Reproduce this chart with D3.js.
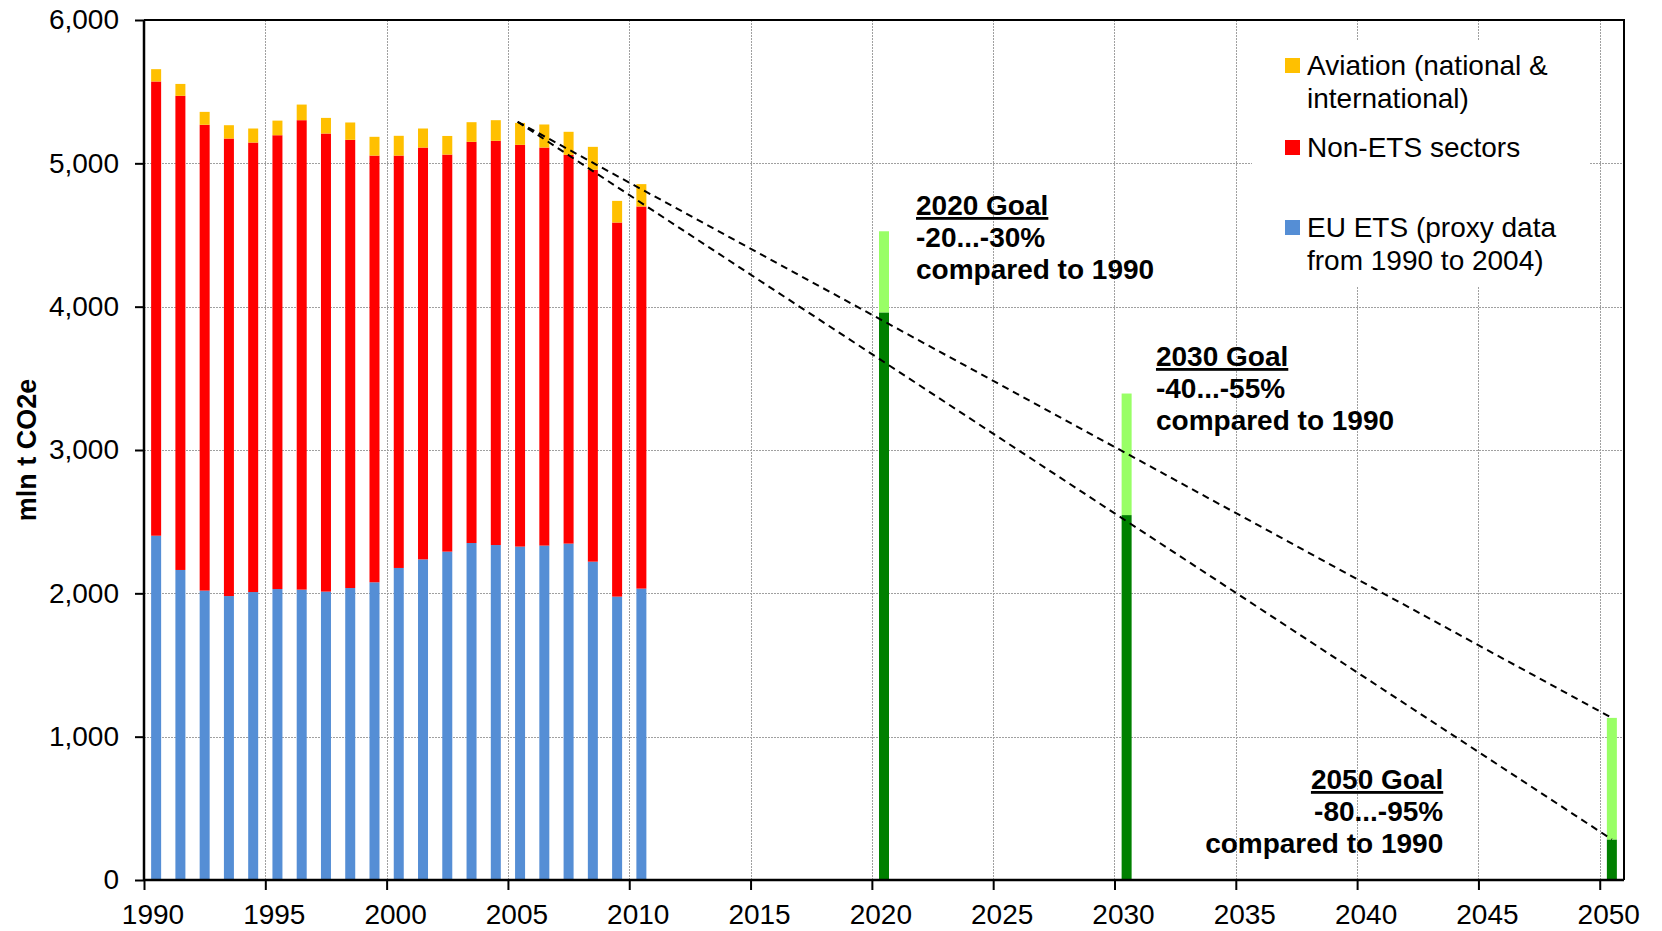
<!DOCTYPE html>
<html>
<head>
<meta charset="utf-8">
<script src="https://cdn.jsdelivr.net/npm/d3@7"></script>
<style>
	body { margin: 0; background: #fff; }
	svg { display: block; font-family: 'Liberation Sans', Arial, sans-serif; }
</style>
</head>
<body>
<div id="chart"></div>
<script>
// Data (mln t CO2e)
const years = [1990, 1991, 1992, 1993, 1994, 1995, 1996, 1997, 1998, 1999, 2000,
	2001, 2002, 2003, 2004, 2005, 2006, 2007, 2008, 2009, 2010];
const euEts = [2402, 2163, 2019, 1981, 2009, 2030, 2026, 2012, 2037, 2077, 2177,
	2237, 2291, 2351, 2337, 2326, 2333, 2347, 2221, 1977, 2033];
const nonEts = [3169, 3308, 3250, 3192, 3136, 3166, 3275, 3196, 3127, 2977, 2877,
	2873, 2770, 2799, 2820, 2803, 2777, 2712, 2734, 2610, 2666];
const aviation = [86, 83, 90, 93, 98, 102, 109, 109, 121, 131, 138,
	133, 130, 137, 144, 153, 161, 161, 160, 151, 156];

const goalYears = [2020, 2030, 2050];
const goalLow = [3960, 2546, 283];
const goalHigh = [4526, 3394, 1131];
const goalTitles = ['2020 Goal', '2030 Goal', '2050 Goal'];
const goalRanges = ['-20...-30%', '-40...-55%', '-80...-95%'];

const trendStart = { year: 2005.4, value: 5290 };
const yTicks = [0, 1000, 2000, 3000, 4000, 5000, 6000];
const xTicks = d3.range(1990, 2051, 5);

const legendLabels = [
	['Aviation (national &', 'international)'],
	['Non-ETS sectors'],
	['EU ETS (proxy data', 'from 1990 to 2004)']
];

// Chart dimensions and margins
const width = 1662;
const height = 931;
const marginTop = 20;
const marginRight = 38;
const marginBottom = 51;
const marginLeft = 144;
const barWidth = 10;
const fontSize = 28;

const colors = {
	ets: '#558ED5',
	nonEts: '#FF0000',
	aviation: '#FFC000',
	goalLow: '#008000',
	goalHigh: '#99FF66'
};

const svg = d3.select('#chart')
	.append('svg')
	.attr('width', width)
	.attr('height', height)
	.attr('viewBox', [0, 0, width, height]);

const x = d3.scaleLinear()
	.domain([1990, 2051])
	.range([marginLeft, width - marginRight]);

const y = d3.scaleLinear()
	.domain([0, 6000])
	.range([height - marginBottom, marginTop]);

// Grid lines
const grid = svg.append('g')
	.attr('stroke', '#A0A0A0')
	.attr('stroke-width', 1)
	.attr('stroke-dasharray', '2,1');

grid.selectAll('.hgrid')
	.data(yTicks.filter((d) => d > 0 && d < 6000))
	.join('line')
	.attr('x1', x(1990))
	.attr('x2', x(2051))
	.attr('y1', (d) => Math.round(y(d)) + 0.5)
	.attr('y2', (d) => Math.round(y(d)) + 0.5);

grid.selectAll('.vgrid')
	.data(xTicks.filter((d) => d > 1990))
	.join('line')
	.attr('x1', (d) => Math.round(x(d)) + 0.5)
	.attr('x2', (d) => Math.round(x(d)) + 0.5)
	.attr('y1', y(6000))
	.attr('y2', y(0));

// Legend box hides the grid behind it
svg.append('rect')
	.attr('x', 1252)
	.attr('y', 40)
	.attr('width', 337)
	.attr('height', 246)
	.attr('fill', '#fff');

// Stacked history bars
const stackData = years.map((yr, i) => ({
	year: yr,
	ets: euEts[i],
	nonEts: nonEts[i],
	aviation: aviation[i]
}));
const series = d3.stack().keys(['ets', 'nonEts', 'aviation'])(stackData);

svg.append('g')
	.selectAll('g')
	.data(series)
	.join('g')
	.attr('fill', (s) => colors[s.key])
	.selectAll('rect')
	.data((s) => s)
	.join('rect')
	.attr('x', (d) => x(d.data.year + 0.5) - barWidth / 2)
	.attr('width', barWidth)
	.attr('y', (d) => y(d[1]))
	.attr('height', (d) => y(d[0]) - y(d[1]));

// Goal bars
const goals = svg.append('g');
goals.selectAll('.low')
	.data(goalYears)
	.join('rect')
	.attr('fill', colors.goalLow)
	.attr('x', (d) => x(d + 0.5) - barWidth / 2)
	.attr('width', barWidth)
	.attr('y', (d, i) => y(goalLow[i]))
	.attr('height', (d, i) => y(0) - y(goalLow[i]));
goals.selectAll('.high')
	.data(goalYears)
	.join('rect')
	.attr('fill', colors.goalHigh)
	.attr('x', (d) => x(d + 0.5) - barWidth / 2)
	.attr('width', barWidth)
	.attr('y', (d, i) => y(goalHigh[i]))
	.attr('height', (d, i) => y(goalLow[i]) - y(goalHigh[i]));

// Dashed trend lines to the 2050 goals
const last = goalYears.length - 1;
svg.append('g')
	.selectAll('line')
	.data([goalHigh[last], goalLow[last]])
	.join('line')
	.attr('x1', x(trendStart.year))
	.attr('y1', y(trendStart.value))
	.attr('x2', x(goalYears[last] + 0.5))
	.attr('y2', (d) => y(d))
	.attr('stroke', '#000')
	.attr('stroke-width', 2)
	.attr('stroke-dasharray', '7,5');

// Plot frame (top and right)
svg.append('path')
	.attr('d', `M${x(1990)},${y(6000)}H${x(2051)}V${y(0)}`)
	.attr('fill', 'none')
	.attr('stroke', '#000')
	.attr('stroke-width', 2);

// Axes
const yAxis = svg.append('g')
	.attr('transform', `translate(${marginLeft},0)`)
	.call(d3.axisLeft(y).tickValues(yTicks).tickSize(9).tickPadding(16).tickFormat(d3.format(',')));
const xAxis = svg.append('g')
	.attr('transform', `translate(0,${y(0)})`)
	.call(d3.axisBottom(x).tickValues(xTicks).tickSize(10).tickPadding(14).tickFormat(d3.format('d')));

[yAxis, xAxis].forEach((ax) => {
	ax.select('.domain').attr('stroke', '#000').attr('stroke-width', 2.5);
	ax.selectAll('.tick line').attr('stroke', '#000').attr('stroke-width', 2);
	ax.selectAll('.tick text')
		.attr('fill', '#000')
		.style('font-size', fontSize + 'px')
		.style('font-family', "'Liberation Sans', Arial, sans-serif");
});
xAxis.select('.domain').attr('d', `M${x(1990)},0H${x(2051)}`);
yAxis.select('.domain').attr('d', `M0,${y(0)}V${y(6000)}`);
// year labels sit a little right of their tick marks
xAxis.selectAll('.tick text').attr('dx', x(1990.35) - x(1990));

// Y axis title
svg.append('text')
	.attr('transform', `translate(36,${y(3000)}) rotate(-90)`)
	.attr('text-anchor', 'middle')
	.style('font-size', '27px')
	.style('font-weight', 'bold')
	.text('mln t CO2e');

// Goal annotations
const notes = [
	{ x: x(2021.82), y: 215, anchor: 'start' },
	{ x: x(2031.71), y: 366, anchor: 'start' },
	{ x: x(2043.55), y: 789, anchor: 'end' }
];
notes.forEach((n, i) => {
	const t = svg.append('text')
		.attr('x', n.x)
		.attr('y', n.y)
		.attr('text-anchor', n.anchor)
		.style('font-size', fontSize + 'px')
		.style('font-weight', 'bold');
	t.append('tspan').attr('x', n.x).attr('dy', 0)
		.style('text-decoration', 'underline')
		.text(goalTitles[i]);
	t.append('tspan').attr('x', n.x).attr('dy', 32).text(goalRanges[i]);
	t.append('tspan').attr('x', n.x).attr('dy', 32).text('compared to 1990');
});

// Legend
const legendKeys = ['aviation', 'nonEts', 'ets'];
const legendRows = [75, 157, 237];
const legend = svg.append('g');
legendKeys.forEach((k, i) => {
	legend.append('rect')
		.attr('x', 1285)
		.attr('y', legendRows[i] - 17)
		.attr('width', 15)
		.attr('height', 15)
		.attr('fill', colors[k]);
	const t = legend.append('text')
		.attr('x', 1307)
		.attr('y', legendRows[i])
		.style('font-size', fontSize + 'px');
	legendLabels[i].forEach((line, j) => {
		t.append('tspan').attr('x', 1307).attr('dy', j ? 33 : 0).text(line);
	});
});
</script>
</body>
</html>
